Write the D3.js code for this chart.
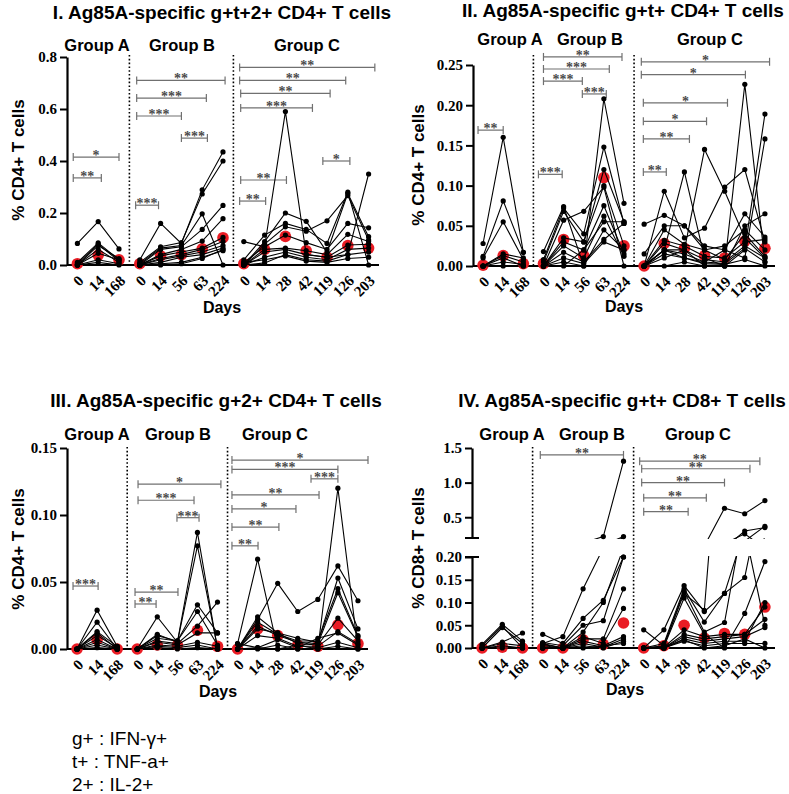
<!DOCTYPE html>
<html><head><meta charset="utf-8">
<script src="https://cdn.jsdelivr.net/npm/d3@7"></script>
<style>body{margin:0;background:#fff}svg{display:block}</style>
</head><body>
<svg id="chart" width="789" height="794"></svg>
<script>
// ---------- categories / labels ----------
const days = ["0","14","168","0","14","56","63","224","0","14","28","42","119","126","203"];
const groupNames = ["Group A","Group B","Group C"];
const groupOffset = [0, 3, 8];
const titles = [
  "I. Ag85A-specific g+t+2+ CD4+ T cells",
  "II. Ag85A-specific g+t+ CD4+ T cells",
  "III. Ag85A-specific g+2+ CD4+ T cells",
  "IV. Ag85A-specific g+t+ CD8+ T cells"
];
const yLabels = ["% CD4+ T cells","% CD4+ T cells","% CD4+ T cells","% CD8+ T cells"];
const legendLines = ["g+ : IFN-\u03b3+","t+ : TNF-a+","2+ : IL-2+"];

// ---------- Panel I : g+t+2+ CD4+ ----------
const p1Ticks = [0,0.2,0.4,0.6,0.8];
const p1A = [[0.083,0.167,0.062],[0.01,0.085,0.02],[0.005,0.08,0.015],[0,0.075,0.025],[0,0.06,0.01],[0,0.045,0.02],[0,0.02,0.005],[0,0.01,0]];
const p1B = [[0.02,0.16,0.083,0.289,0.435],[0.01,0.07,0.086,0.273,0.4],[0.005,0.065,0.075,0.197,0],[0,0.06,0.07,0.137,0.229],[0,0.04,0.06,0.092,0.178],[0,0.035,0.05,0.065,0.106],[0,0.025,0.04,0.06,0.09],[0,0.02,0.035,0.05,0.075],[0,0.01,0.03,0.04,0.065],[0,0.005,0.01,0.03,0.055],[0,0,0.005,0.025,0.06]];
const p1C = [[0.01,0.07,0.59,0.04,0.03,0.04,0.35],[0.02,0.115,0.16,0.137,0.083,0.28,0],[0,0.09,0.2,0.168,0.05,0.275,0.109],[0,0.08,0.147,0.13,0.17,0.267,0.096],[0.09,0.07,0.115,0.086,0.06,0.16,0.143],[0,0.06,0.065,0.055,0.04,0.118,0.09],[0,0.05,0.06,0.04,0.03,0.077,0.08],[0,0.03,0.05,0.03,0.02,0.06,0.065],[0,0.008,0.04,0.02,0.015,0.04,0.05],[0.01,0.02,0.035,0.015,0.01,0.025,0.03]];
const p1Median = [0.005,0.038,0.02, 0.005,0.035,0.04,0.062,0.105, 0.005,0.06,0.11,0.055,0.03,0.075,0.065];
const p1Stats = [[-0.2,2.0,0.415,"*"],[-0.2,1.15,0.335,"**"],[2.85,7.1,0.71,"**"],[2.85,6.2,0.642,"***"],[2.85,5.0,0.573,"***"],[5.0,6.25,0.488,"***"],[2.8,3.9,0.23,"***"],[7.8,14.3,0.76,"**"],[7.8,12.9,0.71,"**"],[7.85,12.15,0.66,"**"],[7.85,11.3,0.604,"***"],[11.8,13.1,0.40,"*"],[7.85,10.05,0.327,"**"],[7.8,9.05,0.246,"**"]];

// ---------- Panel II : g+t+ CD4+ ----------
const p2Ticks = [0,0.05,0.10,0.15,0.20,0.25];
const p2A = [[0.028,0.16,0.017],[0.012,0.081,0.017],[0.01,0.055,0.008],[0,0.015,0.01],[0,0.013,0.005],[0,0.01,0],[0,0.005,0.002],[0,0,0]];
const p2B = [[0.018,0.074,0,0.208,0.078],[0.008,0.072,0.04,0.148,0.053],[0.005,0.068,0.03,0.12,0.055],[0,0.057,0.068,0.098,0],[0,0.035,0.03,0.1,0.025],[0,0.03,0.02,0.075,0.015],[0,0.025,0.01,0.062,0.012],[0,0.017,0.005,0.033,0.053],[0,0.01,0.003,0.03,0.02],[0,0.005,0,0.045,0.02],[0,0,0.02,0.055,0.055]];
const p2C = [[0,0,0.005,0,0,0.226,0.005],[0,0.01,0.02,0,0,0.02,0.189],[0,0.02,0.01,0.005,0.02,0.01,0.158],[0,0.02,0.02,0.145,0.093,0.035,0.01],[0,0.02,0.117,0.01,0,0.05,0.065],[0,0.093,0.035,0.047,0.098,0.12,0.03],[0.052,0.063,0.05,0.025,0.02,0.065,0.036],[0.015,0.05,0.05,0.02,0.025,0.045,0.02],[0,0.045,0.027,0.02,0.008,0.04,0.012],[0,0.032,0.025,0.012,0.01,0.03,0.033],[0,0.028,0.02,0.008,0.005,0.025,0.01],[0,0.02,0.015,0.005,0.003,0.022,0.005],[0,0.015,0.01,0.003,0.002,0.008,0]];
const p2Median = [0.001,0.013,0.003, 0.003,0.033,0.013,0.11,0.025, 0,0.028,0.022,0.013,0.01,0.031,0.022];
const p2Stats = [[-0.25,1.0,0.169,"**"],[3.0,6.9,0.26,"**"],[3.0,6.27,0.245,"***"],[3.0,4.93,0.23,"***"],[4.93,6.12,0.214,"***"],[2.75,3.93,0.114,"***"],[7.86,14.23,0.254,"*"],[7.86,13.03,0.238,"*"],[7.96,12.14,0.203,"*"],[7.96,11.1,0.18,"*"],[7.96,10.25,0.158,"**"],[7.96,9.1,0.117,"**"]];

// ---------- Panel III : g+2+ CD4+ ----------
const p3Ticks = [0,0.05,0.10,0.15];
const p3A = [[0,0.029,0.002],[0,0.02,0],[0,0.013,0.002],[0,0.012,0],[0,0.01,0.001],[0,0.007,0],[0,0.005,0],[0,0.003,0],[0,0.001,0]];
const p3B = [[0,0.024,0.005,0.087,0],[0,0.011,0.005,0.077,0.001],[0,0.01,0.006,0.033,0.012],[0,0.008,0.006,0.028,0.003],[0,0.006,0.004,0.017,0.035],[0,0.005,0.003,0.012,0.012],[0,0.003,0.002,0.005,0.002],[0,0.002,0.001,0.003,0],[0,0.001,0,0.001,0]];
const p3C = [[0.004,0.067,0,0,0,0.12,0],[0,0.022,0.049,0.028,0.037,0.062,0.036],[0,0.024,0.012,0.008,0.005,0.053,0.015],[0,0.02,0.011,0.006,0.006,0.045,0.01],[0,0.017,0.01,0.005,0.004,0.042,0.009],[0,0.015,0.012,0.004,0.003,0.023,0.006],[0,0.01,0.008,0.002,0.002,0.013,0.004],[0,0.001,0.007,0.001,0.008,0.012,0.003],[0,0,0.003,0,0.001,0.005,0.001],[0.004,0.001,0,0.003,0,0.002,0]];
const p3Median = [0,0.007,0, 0,0.003,0.003,0.014,0.002, 0,0.015,0.01,0.003,0.002,0.018,0.004];
const p3Stats = [[-0.2,1.05,0.047,"***"],[3.04,7.17,0.123,"*"],[3.04,5.83,0.111,"***"],[4.98,6.08,0.098,"***"],[2.89,5.03,0.0425,"**"],[2.89,3.94,0.0336,"**"],[7.72,14.5,0.141,"*"],[7.72,13.0,0.134,"***"],[11.66,13.0,0.127,"***"],[7.72,12.06,0.115,"**"],[7.72,10.91,0.1045,"*"],[7.72,10.06,0.091,"**"],[7.72,9.02,0.077,"**"]];

// ---------- Panel IV : g+t+ CD8+ (broken axis) ----------
const p4TicksLow = [0,0.05,0.10,0.15,0.20];
const p4TicksHigh = [0.5,1.0,1.5];
const p4A = [[0.008,0.052,0.015],[0.005,0.048,0],[0,0.045,0.01],[0,0.013,0.033],[0,0.01,0.005],[0,0.005,0],[0,0,0]];
const p4B = [[0.01,0.025,0.13,0.22,1.31],[0.03,0.01,0.065,0.105,0.2],[0.012,0.005,0.05,0.06,0.2],[0.01,0,0.035,0.1,0.22],[0.005,0,0.02,0.02,0.13],[0,0,0.025,0.01,0.087],[0.008,0,0.015,0.005,0.025],[0,0,0.01,0.002,0.02],[0,0,0.005,0,0.015],[0,0,0,0.005,0.01]];
const p4C = [[0.04,0.005,0.12,0.083,0.63,0.55,0.74],[0,0.04,0.137,0.08,0.12,0.26,0.05],[0,0.01,0.13,0.057,0.12,0.155,0.37],[0,0.005,0.125,0.035,0.056,0.3,0.35],[0,0.003,0.11,0.03,0,0.076,0.19],[0,0.002,0.04,0.025,0.03,0.03,0.09],[0,0,0.03,0.02,0.025,0.03,0.063],[0,0,0.025,0.015,0.02,0.025,0.045],[0,0,0.02,0.01,0.015,0.015,0.1],[0,0,0.015,0.005,0.01,0.01,0.01],[0,0,0.018,0,0.005,0.02,0]];
const p4Median = [0,0.002,0, 0,0,0.018,0.008,0.055, 0,0.005,0.05,0.022,0.032,0.03,0.09];
const p4Stats = [[2.88,7.0,1.40,"**"],[7.8,13.75,1.31,"**"],[7.9,13.26,1.2,"**"],[7.9,12.0,1.0,"**"],[8.0,11.1,0.78,"**"],[8.0,10.2,0.58,"**"]];

// ---------- layout (positions only) ----------
const SANS = "'Liberation Sans', Arial, sans-serif";
const SERIF = "'Liberation Serif', 'Times New Roman', serif";
const panels = [
  {groups:[p1A,p1B,p1C], median:p1Median, stats:p1Stats, statSeg:0,
   xr:[67,379], segs:[{dom:[0,0.8], rng:[265,57], ticks:p1Ticks, fmt:".1f"}],
   titleX:222, titleY:19, groupY:51, groupX:[97,182,307], daysX:222, daysY:313, ylX:24, ylY:160, sepTop:55},
  {groups:[p2A,p2B,p2C], median:p2Median, stats:p2Stats, statSeg:0,
   xr:[473,775], segs:[{dom:[0,0.25], rng:[266,65], ticks:p2Ticks, fmt:".2f"}],
   titleX:623, titleY:17, groupY:45, groupX:[510,590,710], daysX:624, daysY:312, ylX:424, ylY:165, sepTop:55},
  {groups:[p3A,p3B,p3C], median:p3Median, stats:p3Stats, statSeg:0,
   xr:[67,368], segs:[{dom:[0,0.15], rng:[649,448], ticks:p3Ticks, fmt:".2f"}],
   titleX:216, titleY:407, groupY:440, groupX:[97,178,275], daysX:218, daysY:697, ylX:24, ylY:549, sepTop:447},
  {groups:[p4A,p4B,p4C], median:p4Median, stats:p4Stats, statSeg:1,
   xr:[472,775], segs:[{dom:[0,0.2], rng:[648,557], ticks:p4TicksLow, fmt:".2f", capTop:true},
                       {dom:[0.2,1.5], rng:[538,448], ticks:p4TicksHigh, fmt:".1f", capBottom:true}],
   titleX:622, titleY:407, groupY:440, groupX:[512,592,698], daysX:625, daysY:695, ylX:424, ylY:548, sepTop:447}
];

const svg = d3.select("#chart");
const defs = svg.append("defs");

panels.forEach((P, pi) => {
  const g = svg.append("g");
  const x = d3.scaleLinear().domain([-0.5,14.5]).range(P.xr);
  const segs = P.segs.map(s => Object.assign({}, s, {y: d3.scaleLinear().domain(s.dom).range(s.rng)}));
  const base = segs[0].y(0);
  const segFor = v => segs.length === 1 ? segs[0] : (v <= 0.2 ? segs[0] : segs[1]);

  // title, group labels, axis titles
  g.append("text").attr("x",P.titleX).attr("y",P.titleY).attr("text-anchor","middle")
    .style("font-family",SANS).style("font-weight","bold").style("font-size","19px").text(titles[pi]);
  groupNames.forEach((n,i) => g.append("text").attr("x",P.groupX[i]).attr("y",P.groupY).attr("text-anchor","middle")
    .style("font-family",SANS).style("font-weight","bold").style("font-size","16.5px").text(n));
  g.append("text").attr("x",P.daysX).attr("y",P.daysY).attr("text-anchor","middle")
    .style("font-family",SANS).style("font-weight","bold").style("font-size","16px").text("Days");
  g.append("text").attr("transform",`translate(${P.ylX},${P.ylY}) rotate(-90)`).attr("text-anchor","middle")
    .style("font-family",SANS).style("font-weight","bold").style("font-size","17px").text(yLabels[pi]);

  // separators
  [2.5,7.5].forEach(k => g.append("line").attr("x1",x(k)).attr("x2",x(k)).attr("y1",P.sepTop).attr("y2",base)
    .attr("stroke","#000").attr("stroke-width",1.6).attr("stroke-dasharray","1.6,2.2"));

  // y axes
  segs.forEach(s => {
    const ax = g.append("g").attr("transform",`translate(${P.xr[0]},0)`)
      .call(d3.axisLeft(s.y).tickValues(s.ticks).tickFormat(d3.format(s.fmt)).tickSize(7).tickSizeOuter(0));
    ax.select(".domain").attr("stroke-width",2.2);
    ax.selectAll(".tick line").attr("stroke-width",2);
    ax.selectAll("text").style("font-family",SERIF).style("font-weight","bold").style("font-size","15px");
    if (s.capTop) g.append("line").attr("x1",P.xr[0]-7).attr("x2",P.xr[0]+7).attr("y1",s.y(s.dom[1])).attr("y2",s.y(s.dom[1])).attr("stroke","#000").attr("stroke-width",2);
    if (s.capBottom) g.append("line").attr("x1",P.xr[0]-7).attr("x2",P.xr[0]+7).attr("y1",s.y(s.dom[0])).attr("y2",s.y(s.dom[0])).attr("stroke","#000").attr("stroke-width",2);
  });

  // x axis
  const xa = g.append("g").attr("transform",`translate(0,${base})`)
    .call(d3.axisBottom(x).tickValues(d3.range(15)).tickFormat(i => days[i]).tickSize(0));
  xa.select(".domain").remove();
  xa.selectAll("text").attr("x",0).attr("y",0).attr("dy","0.35em")
    .attr("transform","translate(3,13) rotate(-45)").style("text-anchor","end")
    .style("font-family",SERIF).style("font-weight","bold").style("font-size","15px");
  g.append("line").attr("x1",P.xr[0]).attr("x2",P.xr[1]).attr("y1",base).attr("y2",base).attr("stroke","#000").attr("stroke-width",2.2);

  // significance brackets
  const sy = segs[P.statSeg].y;
  const sg = g.append("g").attr("stroke","#707070").attr("stroke-width",1.2);
  P.stats.forEach(([a,b,v,lab]) => {
    const yy = sy(v), x1 = x(a), x2 = x(b);
    sg.append("line").attr("x1",x1).attr("x2",x2).attr("y1",yy).attr("y2",yy);
    sg.append("line").attr("x1",x1).attr("x2",x1).attr("y1",yy-4).attr("y2",yy+4);
    sg.append("line").attr("x1",x2).attr("x2",x2).attr("y1",yy-4).attr("y2",yy+4);
    g.append("text").attr("x",(x1+x2)/2).attr("y",yy+3).attr("text-anchor","middle")
      .style("font-family",SERIF).style("font-weight","bold").style("font-size","14px").style("fill","#4a4a4a").text(lab);
  });

  // median dots (under lines)
  g.append("g").selectAll("circle").data(P.median).join("circle")
    .attr("cx",(d,i) => x(i)).attr("cy",d => segFor(d).y(d)).attr("r",5.8).attr("fill","#ea1c24");

  // subject lines, clipped per axis segment
  segs.forEach((s,si) => {
    const cid = `clip${pi}_${si}`;
    const top = s.rng[1] - (segs.length > 1 ? (si === 0 ? 1 : 12) : 20);
    const bottom = s.rng[0] + (segs.length > 1 && si === 1 ? 1 : 8);
    defs.append("clipPath").attr("id",cid).append("rect")
      .attr("x",P.xr[0]).attr("y",top).attr("width",P.xr[1]-P.xr[0]).attr("height",bottom-top);
    const lg = g.append("g").attr("clip-path",`url(#${cid})`);
    P.groups.forEach((grp,gi) => {
      const line = d3.line().x((d,i) => x(groupOffset[gi]+i)).y(d => s.y(d));
      grp.forEach(subj => lg.append("path").attr("d",line(subj)).attr("fill","none").attr("stroke","#000").attr("stroke-width",1.1));
    });
  });

  // subject dots
  const dg = g.append("g");
  P.groups.forEach((grp,gi) => grp.forEach(subj => subj.forEach((v,i) => {
    dg.append("circle").attr("cx",x(groupOffset[gi]+i)).attr("cy",segFor(v).y(v)).attr("r",2.6).attr("fill","#000");
  })));
});

// legend
legendLines.forEach((t,i) => svg.append("text").attr("x",72).attr("y",745 + i*23)
  .style("font-family",SANS).style("font-size","19px").text(t));
</script>
</body></html>
